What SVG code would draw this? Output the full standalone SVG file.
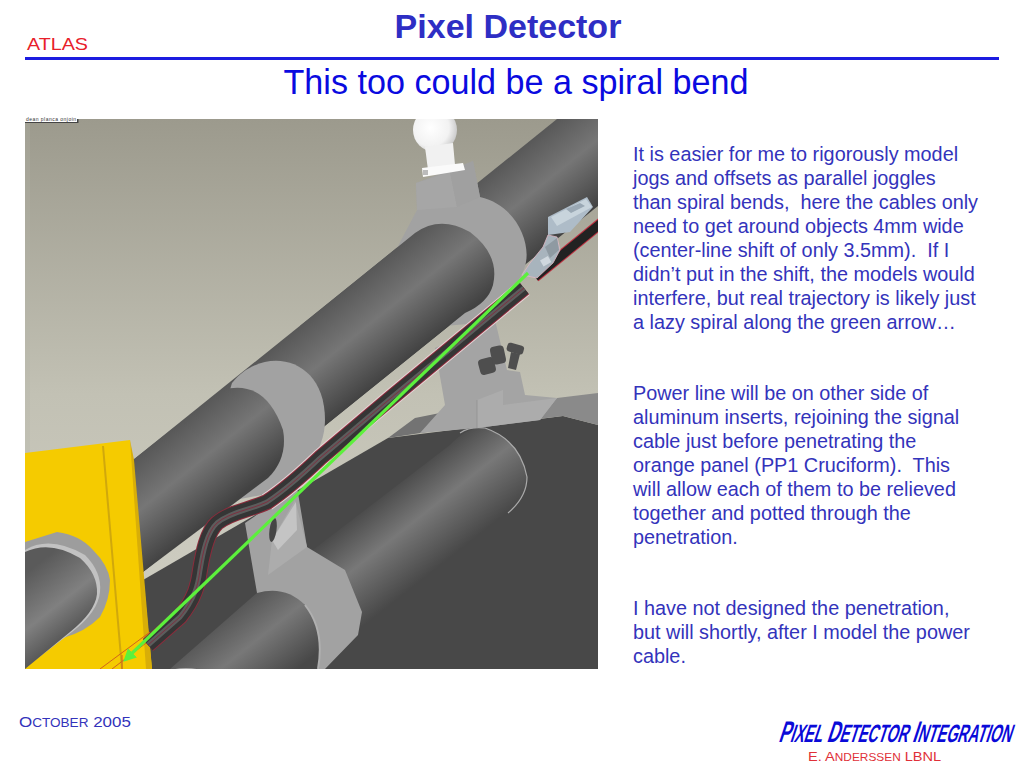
<svg xmlns="http://www.w3.org/2000/svg" width="1024" height="768" viewBox="0 0 1024 768">
<style>
.body{font:19.83px "Liberation Sans",Arial,sans-serif;fill:#3333bb}
.sc{font-family:"Liberation Sans",Arial,sans-serif}
.band{fill:#a2a2a2}
</style>
<defs>
<linearGradient id="bg" x1="0" y1="0" x2="0" y2="1"><stop offset="0" stop-color="#9c9a8d"/><stop offset="0.5" stop-color="#c2c1b4"/><stop offset="1" stop-color="#d2d1c6"/></linearGradient>
<linearGradient id="t1" gradientUnits="userSpaceOnUse" x1="300" y1="326" x2="359" y2="399"><stop offset="0" stop-color="#585858"/><stop offset="0.45" stop-color="#767676"/><stop offset="1" stop-color="#424242"/></linearGradient>
<linearGradient id="t2" gradientUnits="userSpaceOnUse" x1="400" y1="480" x2="457" y2="552"><stop offset="0" stop-color="#4a4a4a"/><stop offset="0.45" stop-color="#787878"/><stop offset="1" stop-color="#484848"/></linearGradient>
<linearGradient id="t3" gradientUnits="userSpaceOnUse" x1="30" y1="570" x2="85" y2="640"><stop offset="0" stop-color="#5a5a5a"/><stop offset="0.5" stop-color="#808080"/><stop offset="1" stop-color="#454545"/></linearGradient>
<linearGradient id="t4" gradientUnits="userSpaceOnUse" x1="230" y1="600" x2="290" y2="675"><stop offset="0" stop-color="#4c4c4c"/><stop offset="0.5" stop-color="#787878"/><stop offset="1" stop-color="#484848"/></linearGradient>
<radialGradient id="ball" cx="0.4" cy="0.45" r="0.7"><stop offset="0" stop-color="#fff"/><stop offset="0.6" stop-color="#f2f2f2"/><stop offset="1" stop-color="#b8b8b8"/></radialGradient>
<clipPath id="pic"><rect x="25" y="119" width="573" height="550"/></clipPath>
<marker id="head" viewBox="0 0 10 10" refX="7" refY="5" markerWidth="4" markerHeight="4" orient="auto-start-reverse"><path d="M0 0L10 5L0 10Z" fill="#5cf03c"/></marker>
</defs>
<rect width="1024" height="768" fill="#fff"/>

<g id="header">
<text x="508" y="38" text-anchor="middle" font-family="Liberation Sans,Arial,sans-serif" font-size="34" font-weight="bold" fill="#2e2ec4">Pixel Detector</text>
<text transform="translate(27 50) scale(1.16 1)" class="sc" font-size="17" fill="#e8202a">ATLAS</text>
<rect x="25" y="57" width="974" height="3" fill="#1c1ce0"/>
<text x="516" y="94" text-anchor="middle" font-family="Liberation Sans,Arial,sans-serif" font-size="34.15" fill="#0a0ae0">This too could be a spiral bend</text>
</g>

<g id="scene" clip-path="url(#pic)">
<rect x="25" y="119" width="573" height="550" fill="url(#bg)"/>
<rect x="25" y="119" width="5" height="550" fill="#b5b3a8" opacity=".25"/>
<path d="M143 580L388 438L563 416L598 425V669H150Z" fill="#484848"/>
<path d="M388 438L415 418L445 412L440 430Z" fill="#737373"/>
<path d="M557 398L598 393V425L563 416L530 420Z" fill="#8a8a8a"/>
<path d="M305 556L450 445Q468 426 485 428Q520 440 527 477Q527 497 508 513L363 628Z" fill="url(#t2)"/>
<path d="M460 433Q470 426 485 428Q520 440 527 477Q527 497 508 513" fill="none" stroke="#aaa" stroke-width="1.2"/>
<path d="M435 348L495 320L507 370L520 372L525 395L557 398L540 420L477 428L420 433L445 405Z" fill="#a4a4a4"/>
<path d="M477 400L503 390L503 405L557 398L540 420L477 428Z" fill="#acacac"/>
<path d="M477 400V428" stroke="#959595" stroke-width="1"/>
<g fill="#4e4e4e">
<rect x="479" y="358" width="16" height="16" rx="4" transform="rotate(-15 487 366)"/>
<rect x="491" y="346" width="14" height="18" rx="4" transform="rotate(-12 498 355)"/>
<rect x="507" y="344" width="17" height="9" rx="3" transform="rotate(15 515 348)"/>
<path d="M511 352l9 2-4 16-8-2z"/>
</g>
<path d="M133 460L557 119H598V206L143 572Z" fill="url(#t1)"/>
<path d="M397 248L417 210L416 183L473 161L480 197C515 205 530 240 526 262C522 285 495 310 467 324L400 330Z" class="band"/>
<path d="M416 183L450 172L457 207L417 210Z" fill="#a6a6a6"/>
<path d="M450 172L473 161L480 197L457 207Z" fill="#a0a0a0"/>
<path d="M300 326L415 233Q440 215 470 232Q500 255 493 285Q488 303 465 313L300 446Z" fill="url(#t1)"/>
<circle cx="435" cy="130" r="22" fill="url(#ball)"/>
<path d="M425 147L453 143L455 165L428 170Z" fill="#f1f1f1"/>
<path d="M422 168L463 163L465 170L423 177Z" fill="#fafafa"/>
<rect x="423" y="170" width="5" height="5" fill="#bbb"/>
<path d="M232 383C262 345 325 355 325 420C325 450 305 480 262 495L235 500L215 440Z" class="band"/>
<path d="M133 460L222 390Q265 378 283 430Q288 458 268 478L143 572Z" fill="url(#t1)"/>
<path d="M245 523L297 487L307 547L345 570L362 612L358 635L325 669H318L320 640L305 605L280 595L257 593Z" class="band"/>
<path d="M268 575L272 540L295 500L307 547Z" fill="#acacac"/>
<path d="M272 540L296 502L297 530L278 550Z" fill="#c4c4c4"/>
<ellipse cx="273" cy="530" rx="3.5" ry="12" fill="#454545" transform="rotate(8 273 530)"/>
<path d="M170 669L257 593Q285 585 305 605Q325 630 318 669Z" fill="url(#t4)"/>
<path d="M305 605Q325 630 318 669" fill="none" stroke="#b0b0b0" stroke-width="2"/>
<ellipse cx="186" cy="672" rx="16" ry="4" fill="#aaa"/>
<path d="M25 453L130 440L152 669H25Z" fill="#f5cb00"/>
<path d="M130 440L134 460L152 669H146Z" fill="#d8ae08"/>
<path d="M103 446L122 669" stroke="#d0a80c" stroke-width="2" fill="none"/>
<path d="M25 542L57 532Q80 535 93 550Q108 565 110 580Q110 600 100 617Q85 632 63 638L25 668Z" fill="#9d9d9d"/>
<path d="M25 550Q50 535 85 555Q102 572 100 592Q98 612 72 632L25 668Z" fill="#c2c2c2"/>
<path d="M25 552Q50 540 80 558Q98 574 97 594Q95 612 70 632L25 669Z" fill="url(#t3)"/>
<path d="M100 669L150 632M112 669L150 640M122 669L122 655" stroke="#d0651c" stroke-width="1" fill="none"/>
</g>

<g id="cable" clip-path="url(#pic)" fill="none" stroke-linecap="butt">
<path d="M524 288L391 398L320 458C300 477 285 490 267 502" stroke="#e6d4d6" stroke-width="18"/>
<path d="M524 288L391 398L320 458C300 477 285 490 267 502C250 510 230 512 217 523C207 532 203 552 200 570C198 585 195 598 180 617L148 645" stroke="#8c2c3c" stroke-width="16"/>
<path d="M524 288L391 398L320 458C300 477 285 490 267 502C250 510 230 512 217 523C207 532 203 552 200 570C198 585 195 598 180 617L148 645" stroke="#353535" stroke-width="14"/>
<path d="M524 288L391 398L320 458C300 477 285 490 267 502C250 510 230 512 217 523C207 532 203 552 200 570C198 585 195 598 180 617L148 645" stroke="#5c5c5c" stroke-width="5"/>
<path d="M524 288L391 398L320 458C300 477 285 490 267 502C250 510 230 512 217 523C207 532 203 552 200 570C198 585 195 598 180 617L148 645" stroke="#7e3040" stroke-width="1"/>
<path d="M605 220L535 277" stroke="#c03040" stroke-width="11"/>
<path d="M605 220L535 277" stroke="#222" stroke-width="9"/>
</g>

<g id="connector-part">
<path d="M548 217L587 197L593 207L570 232L548 235Z" fill="#aebcc8"/>
<path d="M551 217L586 199L592 207L557 226Z" fill="#c8d4dc"/>
<path d="M566 209l14-6 5 3-14 7z" fill="#9aa8b4"/>
<path d="M548 235L557 237L560 250L553 263L537 278L522 275L530 263L543 247Z" fill="#a8b4bd" stroke="#e0b8c4" stroke-width=".8"/>
<path d="M545 247L557 238L559 250L550 258Z" fill="#8f9aa2"/>
<rect x="541" y="258" width="9" height="7" fill="#d0d8de" transform="rotate(-30 545 261)"/>
</g>

<g id="connectors">
<path d="M528 273L126 659" stroke="#5cf03c" stroke-width="3.2" fill="none" marker-end="url(#head)"/>
</g>

<g id="tag">
<rect x="25" y="116" width="53" height="6" fill="#fff"/>
<rect x="77" y="119" width="1.5" height="4" fill="#444"/>
<rect x="25" y="122" width="53" height="1" fill="#444"/>
<text x="26" y="121" font-family="Liberation Sans,sans-serif" font-size="5" fill="#333" textLength="50">dean planca onjoin</text>
</g>

<g id="notes" class="body">
<text x="633" y="161">It is easier for me to rigorously model</text>
<text x="633" y="185">jogs and offsets as parallel joggles</text>
<text x="633" y="209" xml:space="preserve">than spiral bends,  here the cables only</text>
<text x="633" y="233">need to get around objects 4mm wide</text>
<text x="633" y="257" xml:space="preserve">(center-line shift of only 3.5mm).  If I</text>
<text x="633" y="281">didn’t put in the shift, the models would</text>
<text x="633" y="305">interfere, but real trajectory is likely just</text>
<text x="633" y="329">a lazy spiral along the green arrow…</text>
<text x="633" y="400">Power line will be on other side of</text>
<text x="633" y="424">aluminum inserts, rejoining the signal</text>
<text x="633" y="448">cable just before penetrating the</text>
<text x="633" y="472" xml:space="preserve">orange panel (PP1 Cruciform).  This</text>
<text x="633" y="496">will allow each of them to be relieved</text>
<text x="633" y="520">together and potted through the</text>
<text x="633" y="544">penetration.</text>
<text x="633" y="615">I have not designed the penetration,</text>
<text x="633" y="639">but will shortly, after I model the power</text>
<text x="633" y="663">cable.</text>
</g>

<g id="footer">
<text transform="translate(19 727) scale(1.13 1)" class="sc" fill="#3333bb" font-size="15">O<tspan font-size="12">CTOBER</tspan> 2005</text>
<text transform="translate(778 742) skewX(-18) scale(0.575 1)" class="sc" fill="#0a0ad8" font-size="30" font-weight="bold">P<tspan font-size="25">IXEL</tspan> D<tspan font-size="25">ETECTOR</tspan> I<tspan font-size="25">NTEGRATION</tspan></text>
<text transform="translate(808 761) scale(1.08 1)" class="sc" fill="#e03038" font-size="13.5">E. A<tspan font-size="11">NDERSSEN</tspan> LBNL</text>
</g>
</svg>
